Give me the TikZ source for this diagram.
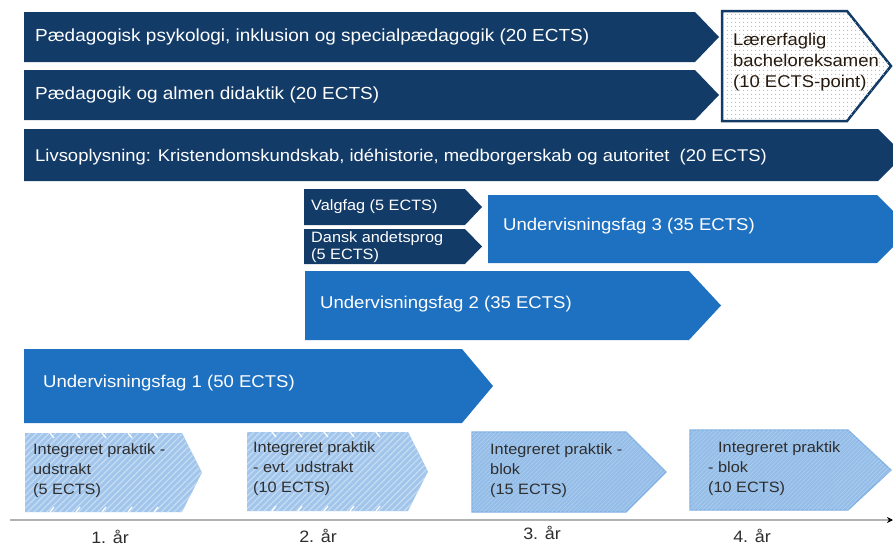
\documentclass[tikz,border=0pt]{standalone}
\usepackage{fontspec}
\setmainfont[FakeStretch=1.085]{Liberation Sans}
\usetikzlibrary{patterns.meta,arrows.meta}
\definecolor{navy}{HTML}{133B67}
\definecolor{midblue}{HTML}{1E70C0}
\definecolor{prfill}{HTML}{A2C5EB}
\definecolor{prline}{HTML}{C4DBF3}
\definecolor{prfillb}{HTML}{94BDE8}
\definecolor{prlineb}{HTML}{AFCEEF}
\definecolor{prborder}{HTML}{7FB0E2}
\definecolor{txtdark}{HTML}{2E2E2E}
\newcommand\chev[6]{\path[#1] (#2,#3) -- (#4,#3) -- (#5,{(#3+#6)/2}) -- (#4,#6) -- (#2,#6) -- cycle;}
\tikzset{
  navybox/.style={fill=navy},
  bluebox/.style={fill=midblue},
  praksisA/.style={fill=prfill, postaction={pattern={Lines[angle=45,distance=4.5pt,line width=1.3pt]}, pattern color=prline}},
  praksisB/.style={fill=prfillb, draw=prborder, line width=1.2pt, postaction={pattern={Lines[angle=45,distance=3pt,line width=0.6pt]}, pattern color=prlineb}},
  exambox/.style={fill=white, draw=navy, line width=2.5pt, postaction={pattern={Dots[distance=4pt,radius=0.75pt]}, pattern color=gray!55}},
  wtxt/.style={text=white, anchor=west, inner sep=0pt, font=\fontsize{17.5}{20}\selectfont},
  wtxtbig/.style={text=white, anchor=west, inner sep=0pt, font=\fontsize{17.1}{21}\selectfont},
  wtxtsm/.style={text=white, anchor=west, inner sep=0pt, align=left, font=\fontsize{15}{18}\selectfont},
  ptxt/.style={text=txtdark, anchor=north west, inner sep=0pt, align=left, font=\fontsize{15}{20}\selectfont},
  yrtxt/.style={text=txtdark, inner sep=0pt, font=\fontsize{16.5}{18}\selectfont},
  notch/.style={white, line width=1.3pt},
}
\begin{document}
\begin{tikzpicture}[x=1pt,y=-1pt]
\useasboundingbox (0,0) rectangle (893,546);
\begin{scope}
\clip (0,0) rectangle (893,546);
% top rows
\chev{navybox}{24}{12}{695}{719}{62}
\node[wtxt] (r1) at (35,37) {Pædagogisk psykologi, inklusion og specialpædagogik (20 ECTS)};
\chev{navybox}{24}{70}{695}{719}{120}
\node[wtxt] (r2) at (35,95) {Pædagogik og almen didaktik (20 ECTS)};
% exam
\chev{exambox}{722}{11}{847}{891}{121}
\node[ptxt, text=black!80!brown, font=\fontsize{17}{21}\selectfont, anchor=west] (ex) at (733,62) {Lærerfaglig\\bacheloreksamen\\(10 ECTS-point)};
% livsoplysning
\chev{navybox}{24}{129}{878}{904}{181}
\node[wtxt, font=\fontsize{17}{20}\selectfont] (r3) at (35,157) {Livsoplysning: Kristendomskundskab, idéhistorie, medborgerskab og autoritet\ \ (20 ECTS)};
% valgfag / dansk
\chev{navybox}{304}{189}{465}{482}{225}
\node[wtxtsm] (vf) at (311,207) {Valgfag (5 ECTS)};
\chev{navybox}{304}{229}{465}{482}{264}
\node[wtxtsm, font=\fontsize{15}{17}\selectfont] (da) at (311,247) {Dansk andetsprog\\(5 ECTS)};
% undervisningsfag
\chev{bluebox}{488}{195}{877}{911}{263}
\node[wtxtbig] (u3) at (503,226) {Undervisningsfag 3 (35 ECTS)};
\chev{bluebox}{305}{271}{689}{721}{340}
\node[wtxtbig] (u2) at (320,304) {Undervisningsfag 2 (35 ECTS)};
\chev{bluebox}{24}{349}{462}{493}{423}
\node[wtxtbig] (u1) at (43,383) {Undervisningsfag 1 (50 ECTS)};
% praksis
\chev{praksisA}{25}{433}{182}{202}{512}
\foreach \xx in {50,76,102,128,154} {\draw[notch] (\xx,433) -- ++(4,5); \draw[notch] (\xx,512) -- ++(4,-5);}
\node[ptxt] (p1) at (33,443) {Integreret praktik -\\udstrakt\\(5 ECTS)};
\chev{praksisA}{247}{432}{408}{428}{511}
\foreach \xx in {272,298,324,350,376} {\draw[notch] (\xx,432) -- ++(4,5); \draw[notch] (\xx,511) -- ++(4,-5);}
\node[ptxt] (p2) at (253,441) {Integreret praktik\\- evt. udstrakt\\(10 ECTS)};
\chev{praksisB}{472}{432}{626}{666}{512}
\node[ptxt] (p3) at (490,443) {Integreret praktik -\\blok\\(15 ECTS)};
\chev{praksisB}{690}{430}{848}{891}{510}
\node[ptxt] (p4) at (708,441) {\hspace*{10pt}Integreret praktik\\- blok\\(10 ECTS)};
% axis
\coordinate (axs) at (10,520);
\coordinate (axe) at (893,520);
\draw[gray!60, line width=1.1pt, -{Stealth[black,length=6pt,width=6pt]}] (axs) -- (axe);
\node[yrtxt] (y1) at (110,537) {1. år};
\node[yrtxt] (y2) at (318,536) {2. år};
\node[yrtxt] (y3) at (542,533) {3. år};
\node[yrtxt] (y4) at (752,536) {4. år};
\end{scope}
\end{tikzpicture}
\end{document}
